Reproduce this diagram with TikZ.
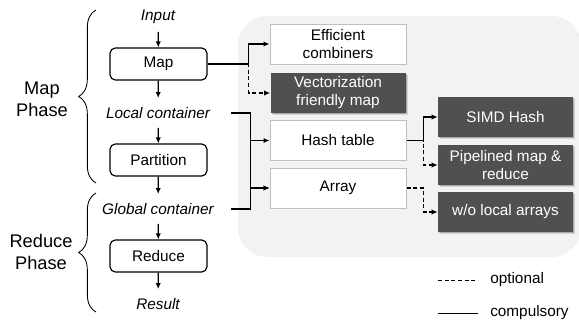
\documentclass[tikz,border=0pt]{standalone}
\usepackage{fontspec}
\setmainfont{Liberation Sans}
\usetikzlibrary{arrows.meta,shadows,decorations.pathreplacing}
\definecolor{darkfill}{HTML}{505050}
\definecolor{bgfill}{HTML}{F2F2F2}
\definecolor{lightborder}{HTML}{BFBFBF}
\begin{document}
\begin{tikzpicture}[x=0.75pt,y=-0.75pt,
  every node/.style={font=\fontsize{11.5}{13.5}\selectfont},
  flowbox/.style={draw=black, line width=0.9pt, rounded corners=4pt, minimum width=72.75pt, minimum height=24pt, inner sep=0pt},
  flowtext/.style={font=\fontsize{11.5}{13.5}\selectfont\itshape, minimum width=109.5pt, minimum height=22pt, inner sep=0pt},
  lightbox/.style={draw=lightborder, line width=0.75pt, fill=white, minimum width=102pt, minimum height=30pt, inner sep=0pt, align=center},
  darkbox/.style={fill=darkfill, text=white, minimum width=101.25pt, minimum height=30pt, inner sep=0pt, align=center,
    drop shadow={shadow xshift=1.8pt, shadow yshift=-1.8pt, fill=black, opacity=0.12},
    drop shadow={shadow xshift=1.0pt, shadow yshift=-1.0pt, fill=black, opacity=0.2}},
  phase/.style={font=\fontsize{13.7}{16.5}\selectfont, align=center, inner sep=0pt},
  conn/.style={line width=0.9pt, -{Latex[length=4.5pt,width=4pt]}},
  opt/.style={conn, dash pattern=on 3pt off 2pt},
  bracestyle/.style={line width=0.65pt, decorate, decoration={brace, amplitude=13pt}},
]
\useasboundingbox (0,0) rectangle (579,325);
\fill[bgfill, rounded corners=22pt] (238,16) rectangle (581,257);

% left flow
\node[flowtext] (input) at (158,17) {Input};
\node[flowbox] (map) at (158.5,64) {Map};
\node[flowtext] (local) at (158,113) {Local container};
\node[flowbox] (part) at (158.5,160) {Partition};
\node[flowtext] (global) at (158,209) {Global container};
\node[flowbox] (reduce) at (158.5,256) {Reduce};
\node[flowtext] (result) at (158,304) {Result};

\draw[conn] (input) -- (map);
\draw[conn] (map) -- (local);
\draw[conn] (local) -- (part);
\draw[conn] (part) -- (global);
\draw[conn] (global) -- (reduce);
\draw[conn] (reduce) -- (result);

% braces
\coordinate (mb1) at (96,183);
\coordinate (mb2) at (96,10);
\coordinate (rb1) at (96,312);
\coordinate (rb2) at (96,193);
\draw[bracestyle] (mb1) -- (mb2);
\draw[bracestyle] (rb1) -- (rb2);
\node[phase] (mapphase) at (42,99) {Map\\Phase};
\node[phase] (redphase) at (41,252) {Reduce\\Phase};

% right boxes
\node[lightbox] (comb) at (338,44) {Efficient\\combiners};
\node[darkbox] (vec) at (338,93) {Vectorization\\friendly map};
\node[lightbox] (hash) at (338,140.5) {Hash table};
\node[lightbox] (array) at (338,188) {Array};
\node[darkbox] (simd) at (505.5,117) {SIMD Hash};
\node[darkbox] (pipe) at (505.5,165) {Pipelined map \&\\reduce};
\node[darkbox] (wo) at (505.5,212) {w/o local arrays};

% connectors
\draw[opt] (map.east) -- ++(41,0) |- (vec.west);
\draw[conn] (map.east) -- ++(41,0) |- (comb.west);
\draw[conn] (local.east) -- ++(19,0) |- (hash.west);
\draw[conn] (local.east) -- ++(19,0) |- (array.west);
\draw[conn] (global.east) -- ++(19,0) |- (array.west);
\draw[opt] (hash.east) -- ++(17,0) |- (pipe.west);
\draw[conn] (hash.east) -- ++(17,0) |- (simd.west);
\draw[opt] (array.east) -- ++(17,0) |- (wo.west);

% legend
\coordinate (l1a) at (438,280);
\coordinate (l1b) at (478,280);
\coordinate (l2a) at (438,313);
\coordinate (l2b) at (478,313);
\draw[line width=0.75pt, dash pattern=on 3pt off 2pt] (l1a) -- (l1b);
\draw[line width=0.75pt] (l2a) -- (l2b);
\node[anchor=west, inner sep=0pt] (optl) at (490,280) {optional};
\node[anchor=west, inner sep=0pt] (compl) at (490,313) {compulsory};
\end{tikzpicture}
\end{document}
